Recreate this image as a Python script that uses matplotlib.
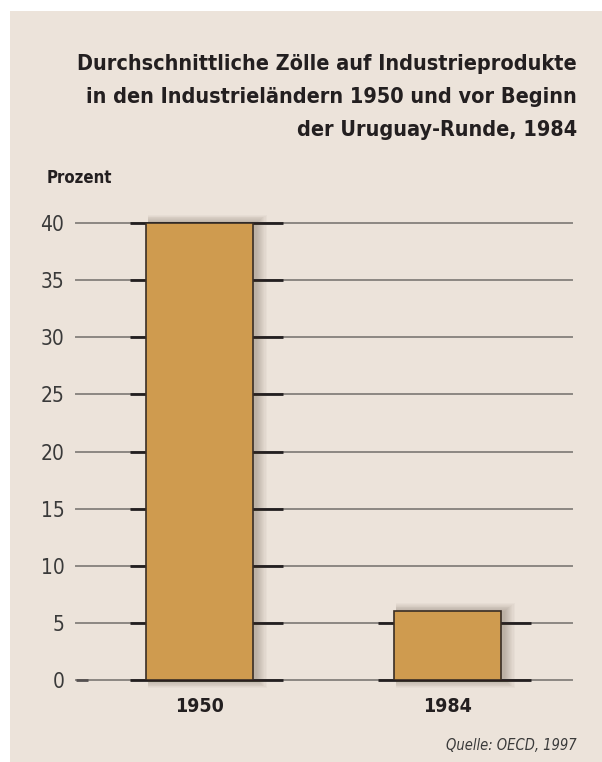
import matplotlib.pyplot as plt
from matplotlib.patches import Rectangle

# Datos
jahre = ["1950", "1984"]
zoelle = [40, 6]
y_ticks = [0, 5, 10, 15, 20, 25, 30, 35, 40]

titel = ("Durchschnittliche Zölle auf Industrieprodukte\n"
         "in den Industrieländern 1950 und vor Beginn\n"
         "der Uruguay-Runde, 1984")

FONDO = "#ece3da"
BARRA = "#cf9b4f"
OSCURO = "#231f20"
GRIS = "#8c8782"

plt.rcParams["font.family"] = ["DejaVu Sans"]

fig = plt.figure(figsize=(6.02, 7.62), dpi=100)
fig.patch.set_facecolor("white")

# Panel de fondo (con margen blanco arriba e izquierda)
fig.patches.append(Rectangle((10 / 602, 0), 1, 1 - 11 / 762, transform=fig.transFigure,
                             facecolor=FONDO, edgecolor="none", zorder=-5))

ax = fig.add_axes([75.5 / 602, 1 - 680 / 762, 496 / 602, 457 / 762])
ax.set_facecolor("none")
ax.set_xlim(-0.5, 1.5)
ax.set_ylim(0, 40)

x = list(range(len(jahre)))
ancho = 107 / 248

# Líneas de la cuadrícula (tramos oscuros solo junto a las barras)
for v in y_ticks:
    ax.axhline(v, color=GRIS, lw=1.4, zorder=1, clip_on=False)
    for xi, val in zip(x, zoelle):
        if v <= val:
            ax.hlines(v, xi - 0.28, xi + 0.337, color=OSCURO, lw=2, zorder=2, clip_on=False)
ax.hlines(0, -0.5, -0.45, color="#555050", lw=2, zorder=2, clip_on=False)

# Sombra difusa de las barras (hacia la derecha)
for xi, val in zip(x, zoelle):
    for k in range(1, 11):
        d = k * 0.0045
        ax.add_patch(Rectangle((xi - ancho / 2 + 0.01, -k * 0.07),
                               ancho + d, val + k * 0.14,
                               facecolor="#4a3a2a", edgecolor="none", alpha=0.03,
                               zorder=3, clip_on=False))

ax.bar(x, zoelle, width=ancho, color=BARRA, edgecolor="#3a2e25", linewidth=1.2, zorder=4)

ax.set_yticks(y_ticks)
ax.set_yticklabels([str(v) for v in y_ticks], fontsize=15, color="#3a3a3a",
                   fontweight="light", fontstretch="condensed")
ax.tick_params(axis="y", length=0, pad=8)
ax.set_xticks(x)
ax.set_xticklabels(jahre, fontsize=14, fontweight="bold", color=OSCURO,
                   fontstretch="condensed")
ax.tick_params(axis="x", length=0, pad=12)
for s in ax.spines.values():
    s.set_visible(False)

fig.text(577 / 602, 1 - 54 / 762, titel, ha="right", va="top", fontsize=15.5,
         fontweight="bold", color=OSCURO, linespacing=1.8, fontstretch="condensed")
fig.text(47 / 602, 1 - 178 / 762, "Prozent", ha="left", va="center", fontsize=12,
         fontweight="bold", color=OSCURO, fontstretch="condensed")
fig.text(577 / 602, 1 - 745 / 762, "Quelle: OECD, 1997", ha="right", va="center",
         fontsize=10.5, style="italic", color="#3a3a3a", fontstretch="condensed")

fig.savefig("out.png", dpi=100)
